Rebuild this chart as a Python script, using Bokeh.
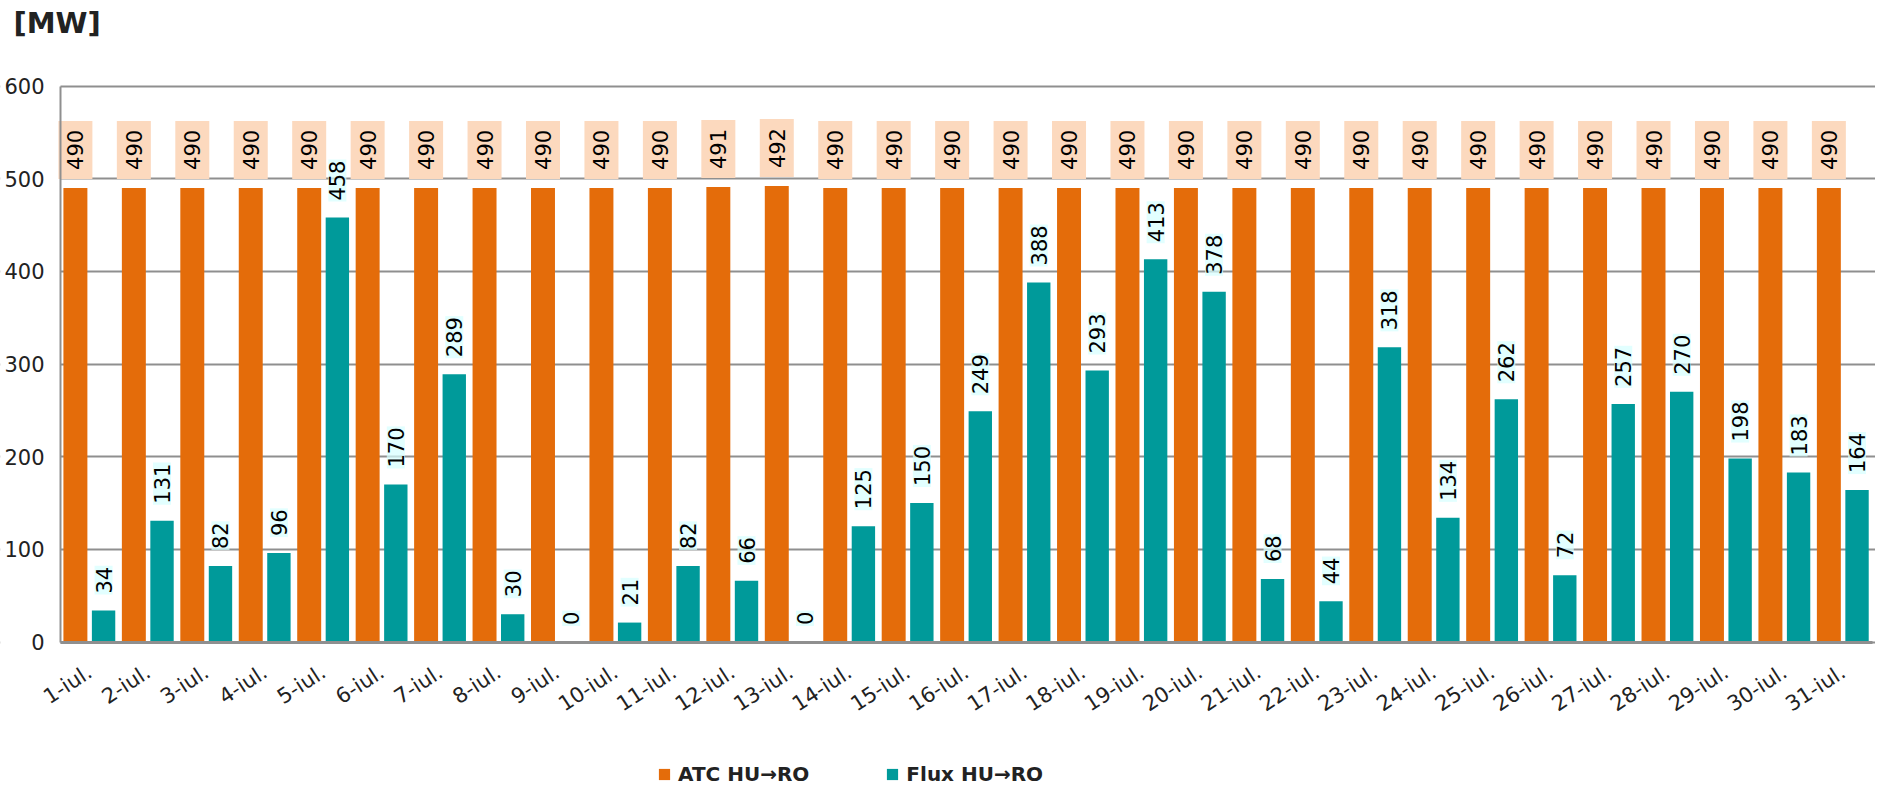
import math
from bokeh.plotting import figure
from bokeh.models import (ColumnDataSource, Range1d, FixedTicker, Legend,
                          LegendItem, Label, BoxAnnotation)
from bokeh.transform import dodge
from bokeh.embed import file_html
from bokeh.resources import INLINE
from bokeh.core.properties import value

# ---- data ----
days = [1, 2, 3, 4, 5, 6, 7, 8, 9, 10, 11, 12, 13, 14, 15, 16, 17, 18, 19, 20,
        21, 22, 23, 24, 25, 26, 27, 28, 29, 30, 31]
day_labels = ["1-iul.", "2-iul.", "3-iul.", "4-iul.", "5-iul.", "6-iul.", "7-iul.",
              "8-iul.", "9-iul.", "10-iul.", "11-iul.", "12-iul.", "13-iul.", "14-iul.",
              "15-iul.", "16-iul.", "17-iul.", "18-iul.", "19-iul.", "20-iul.", "21-iul.",
              "22-iul.", "23-iul.", "24-iul.", "25-iul.", "26-iul.", "27-iul.", "28-iul.",
              "29-iul.", "30-iul.", "31-iul."]
atc = [490, 490, 490, 490, 490, 490, 490, 490, 490, 490, 490, 491, 492, 490, 490, 490,
       490, 490, 490, 490, 490, 490, 490, 490, 490, 490, 490, 490, 490, 490, 490]
flux = [34, 131, 82, 96, 458, 170, 289, 30, 0, 21, 82, 66, 0, 125, 150, 249,
        388, 293, 413, 378, 68, 44, 318, 134, 262, 72, 257, 270, 198, 183, 164]
y_ticks = [0, 100, 200, 300, 400, 500, 600]
series_names = ["ATC HU\u2192RO", "Flux HU\u2192RO"]
unit_label = "[MW]"

ATC_COLOR = "#E46C0A"
FLUX_COLOR = "#009A9A"
GRID = "#8F8F8F"
FONT = "DejaVu Sans"

# view window (the whole canvas is the plot frame; axes are pinned inside it)
X_START, X_END = -0.5265, 31.553
Y_START, Y_END = -155.9, 692.3
X_AXIS_LO, X_AXIS_HI = 0.5, 31.5

src = ColumnDataSource(dict(
    x=days, atc=atc, flux=flux,
    atc_txt=[str(v) for v in atc],
    flux_txt=[str(v) for v in flux],
))

p = figure(width=1875, height=786, x_range=Range1d(X_START, X_END),
           y_range=Range1d(Y_START, Y_END), title=None,
           output_backend="svg", toolbar_location=None,
           min_border_left=0, min_border_right=0, min_border_top=0, min_border_bottom=0)
p.outline_line_color = None
p.background_fill_color = "white"

# grid
p.xgrid.grid_line_color = None
p.ygrid.grid_line_color = GRID
p.ygrid.grid_line_width = 2
p.ygrid.ticker = FixedTicker(ticks=y_ticks)

# white mask so the grid lines start at the value axis
p.add_layout(BoxAnnotation(left=X_START, right=X_AXIS_LO, bottom=Y_START, top=Y_END,
                           fill_color="white", fill_alpha=1.0, line_color=None,
                           level="underlay"))

r1 = p.vbar(x=dodge('x', -0.245), top='atc', width=0.41, source=src,
            fill_color=ATC_COLOR, line_color=None)
r2 = p.vbar(x=dodge('x', 0.237), top='flux', width=0.40, source=src,
            fill_color=FLUX_COLOR, line_color=None)

# axes
p.yaxis.fixed_location = X_AXIS_LO
p.yaxis.ticker = FixedTicker(ticks=y_ticks)
p.yaxis.bounds = (y_ticks[0], y_ticks[-1])
p.yaxis.axis_line_color = GRID
p.yaxis.axis_line_width = 2
p.yaxis.major_tick_line_color = None
p.yaxis.minor_tick_line_color = None
p.yaxis.major_label_standoff = 10
p.yaxis.major_label_text_font = FONT
p.yaxis.major_label_text_font_size = "21px"
p.yaxis.major_label_text_color = "#222222"

p.xaxis.fixed_location = 0
p.xaxis.bounds = (X_AXIS_LO, X_AXIS_HI)
p.xaxis.ticker = FixedTicker(ticks=days)
p.xaxis.major_label_overrides = {d: lab for d, lab in zip(days, day_labels)}
p.xaxis.major_label_orientation = 0.58
p.xaxis.axis_line_color = GRID
p.xaxis.axis_line_width = 3
p.xaxis.major_tick_line_color = None
p.xaxis.minor_tick_line_color = None
p.xaxis.major_label_standoff = 22
p.xaxis.major_label_text_font = FONT
p.xaxis.major_label_text_font_size = "21px"
p.xaxis.major_label_text_color = "#222222"

# data labels
p.text(x=dodge('x', -0.245), y='atc', text='atc_txt', source=src,
       angle=math.pi / 2, text_align='left', text_baseline='middle',
       y_offset=-9, text_font=value(FONT), text_font_size="21px",
       text_color="black", background_fill_color="#FCD9BE", padding=9)
p.text(x=dodge('x', 0.237), y='flux', text='flux_txt', source=src,
       angle=math.pi / 2, text_align='left', text_baseline='middle',
       y_offset=-16, text_font=value(FONT), text_font_size="21px",
       text_color="black", background_fill_color="#D6FFFF",
       background_fill_alpha=0.7, padding=1)

# unit label (top-left)
p.add_layout(Label(x=-0.304, y=668, text=unit_label, text_align="left",
                   text_baseline="middle", text_font=FONT, text_font_size="29px",
                   text_font_style="bold", text_color="#222222"))

# legend
legend = Legend(items=[LegendItem(label=series_names[0], renderers=[r1]),
                       LegendItem(label=series_names[1], renderers=[r2])],
                orientation="horizontal", location=(657, 0),
                glyph_width=14, glyph_height=14, label_standoff=7, spacing=76,
                padding=0, margin=0, border_line_color=None, background_fill_alpha=0,
                label_text_font=FONT, label_text_font_size="20px",
                label_text_font_style="bold", label_text_color="#222222")
p.add_layout(legend)

open("out.html", "w").write(file_html(p, INLINE))
